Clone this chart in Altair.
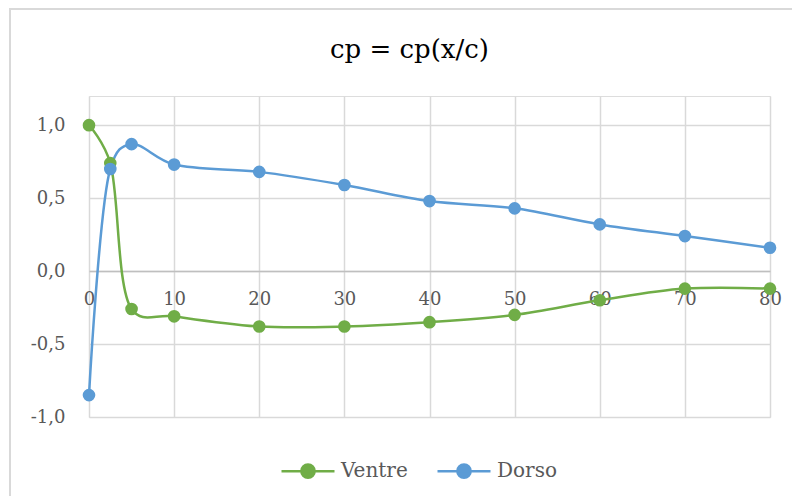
import altair as alt
import pandas as pd

x_vals = [0, 2.5, 5, 10, 20, 30, 40, 50, 60, 70, 80]
ventre = [1.00, 0.74, -0.26, -0.31, -0.38, -0.38, -0.35, -0.30, -0.20, -0.12, -0.12]
dorso = [-0.85, 0.70, 0.87, 0.73, 0.68, 0.59, 0.48, 0.43, 0.32, 0.24, 0.16]
series = ["Ventre", "Dorso"]
colors = ["#70AD47", "#5B9BD5"]
x_ticks = [0, 10, 20, 30, 40, 50, 60, 70, 80]
y_ticks = [-1.0, -0.5, 0.0, 0.5, 1.0]

rows = []
for name, vals in zip(series, [ventre, dorso]):
    for i, (xv, yv) in enumerate(zip(x_vals, vals)):
        rows.append({"x": xv, "cp": yv, "serie": name, "ord": i})
df = pd.DataFrame(rows)

FONT = "DejaVu Serif"
GRID = "#d9d9d9"
TXT = "#595959"

sym = "M -1 0 L 1 0 M 0.25 0 A 0.25 0.25 0 1 1 -0.25 0 A 0.25 0.25 0 1 1 0.25 0 Z"

color = alt.Color(
    "serie:N",
    scale=alt.Scale(domain=series, range=colors),
    legend=alt.Legend(
        title=None,
        orient="none",
        legendX=191,
        legendY=347,
        direction="horizontal",
        symbolType=sym,
        symbolSize=2809,
        symbolStrokeWidth=2.5,
        labelFont=FONT,
        labelFontSize=20,
        labelColor=TXT,
        labelOffset=5,
        columnPadding=24,
    ),
)

xenc = alt.X(
    "x:Q",
    scale=alt.Scale(domain=[0, 80], nice=False, zero=False),
    axis=alt.Axis(
        title=None,
        values=x_ticks,
        grid=True,
        gridColor=GRID,
        gridWidth=1.5,
        ticks=False,
        domain=True,
        domainColor="#bfbfbf",
        domainWidth=1.5,
        offset=-146,
        labelFont=FONT,
        labelFontSize=18,
        labelColor=TXT,
        labelPadding=19,
        labelFlush=False,
        labelOverlap=False,
    ),
)
yenc = alt.Y(
    "cp:Q",
    scale=alt.Scale(domain=[-1.0, 1.2], nice=False, zero=False),
    axis=alt.Axis(
        title=None,
        values=y_ticks,
        grid=True,
        gridColor=GRID,
        gridWidth=1.5,
        ticks=False,
        domain=False,
        labelFont=FONT,
        labelFontSize=18,
        labelColor=TXT,
        labelPadding=24,
        labelExpr="(datum.value < 0 ? '-' : '') + replace(format(abs(datum.value), '.1f'), '.', ',')",
    ),
)

base = alt.Chart(df)
lines = base.mark_line(interpolate="catmull-rom", tension=0.3, strokeWidth=2.5).encode(
    x=xenc, y=yenc, color=color, order="ord:Q"
)
points = base.mark_point(filled=True, size=160, opacity=1).encode(
    x="x:Q", y="cp:Q", color=alt.Color("serie:N", scale=alt.Scale(domain=series, range=colors))
)

border_df = pd.DataFrame({"k": [0]})
left_border = alt.Chart(border_df).mark_rule(color=GRID, strokeWidth=2).encode(
    x=alt.value(-79), y=alt.value(-88), y2=alt.value(420)
)
top_border = alt.Chart(border_df).mark_rule(color=GRID, strokeWidth=2).encode(
    x=alt.value(-79), x2=alt.value(720), y=alt.value(-87)
)

chart = alt.layer(left_border, top_border, lines, points).properties(
    width=681,
    height=321,
    title=alt.TitleParams(
        "cp = cp(x/c)",
        font=FONT,
        fontSize=26,
        fontWeight="normal",
        color="#000000",
        anchor="middle",
        offset=0,
        dy=56,
        dx=-20,
    ),
    autosize=alt.AutoSizeParams(type="none"),
    padding={"left": 81, "top": 88, "right": 22, "bottom": 79},
).configure_view(stroke=None).configure(background="white")

chart.save("out.html", embed_options={"renderer": "svg", "actions": False})
